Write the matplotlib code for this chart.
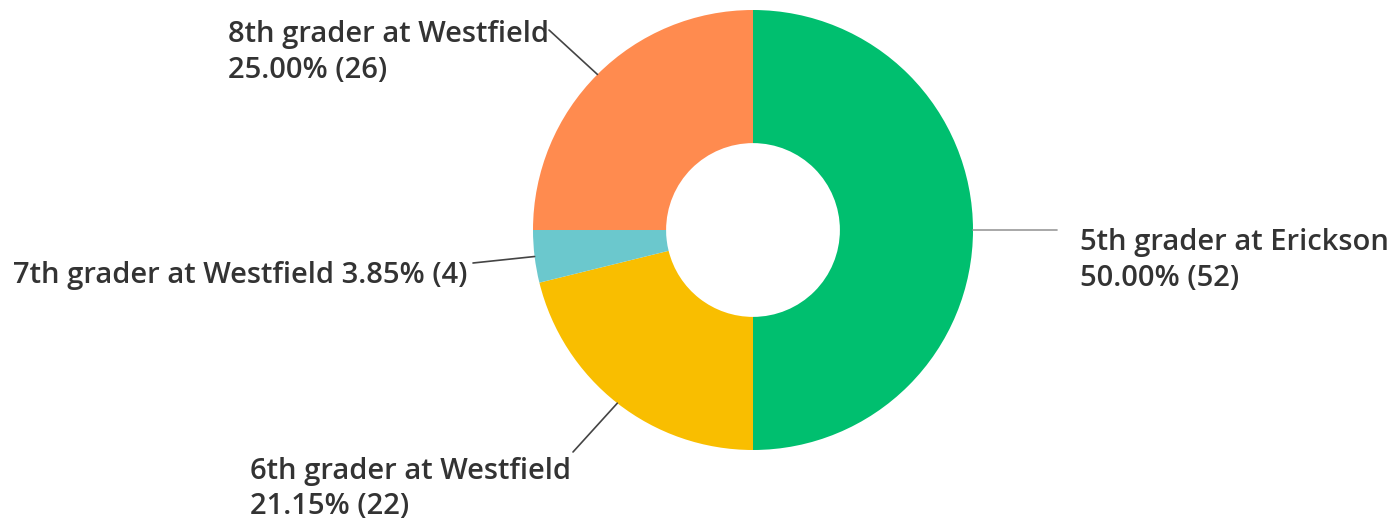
import matplotlib
matplotlib.use("Agg")
import matplotlib.pyplot as plt
import numpy as np

categories = ["5th grader at Erickson", "6th grader at Westfield",
              "7th grader at Westfield", "8th grader at Westfield"]
counts = [52, 22, 4, 26]
percents = [50.00, 21.15, 3.85, 25.00]
colors = ["#00BF6F", "#F9BE00", "#6BC8CD", "#FF8B4F"]

W, H = 1393, 522
fig = plt.figure(figsize=(W / 100, H / 100), dpi=100)
cx, cy, R = 753, 230, 220
ax = fig.add_axes([(cx - R) / W, 1 - (cy + R) / H, 2 * R / W, 2 * R / H])

wedges, _ = ax.pie(counts, colors=colors, startangle=90, counterclock=False,
                   radius=1, wedgeprops=dict(width=0.605, linewidth=0))
ax.set_xlim(-1, 1)
ax.set_ylim(-1, 1)
ax.set_aspect("equal")
ax.axis("off")

FONT = dict(family=["Open Sans", "DejaVu Sans"], fontsize=21, color="#333333", weight="semibold")

layout = {
    0: dict(lines=[categories[0], f"{percents[0]:.2f}% ({counts[0]})"], x=1080, ys=[250, 286], end=(1057, 230), lc="#999999"),
    1: dict(lines=[categories[1], f"{percents[1]:.2f}% ({counts[1]})"], x=250, ys=[479, 514], end=(573, 452), lc="#444444"),
    2: dict(lines=[f"{categories[2]} {percents[2]:.2f}% ({counts[2]})"], x=13, ys=[283], end=(473, 263), lc="#444444"),
    3: dict(lines=[categories[3], f"{percents[3]:.2f}% ({counts[3]})"], x=228, ys=[42, 78], end=(549, 30), lc="#444444"),
}

for i, w in enumerate(wedges):
    mid = np.deg2rad((w.theta1 + w.theta2) / 2)
    L = layout[i]
    ex, ey = L["end"]
    ax.annotate("", xy=(np.cos(mid), np.sin(mid)), xycoords="data",
                xytext=(ex, H - ey), textcoords="figure pixels",
                arrowprops=dict(arrowstyle="-", color=L["lc"], lw=1.2,
                                shrinkA=0, shrinkB=0))
    for line, yb in zip(L["lines"], L["ys"]):
        fig.text(L["x"] / W, 1 - yb / H, line, ha="left", va="baseline", **FONT)

fig.savefig("out.png", dpi=100, facecolor="white")
